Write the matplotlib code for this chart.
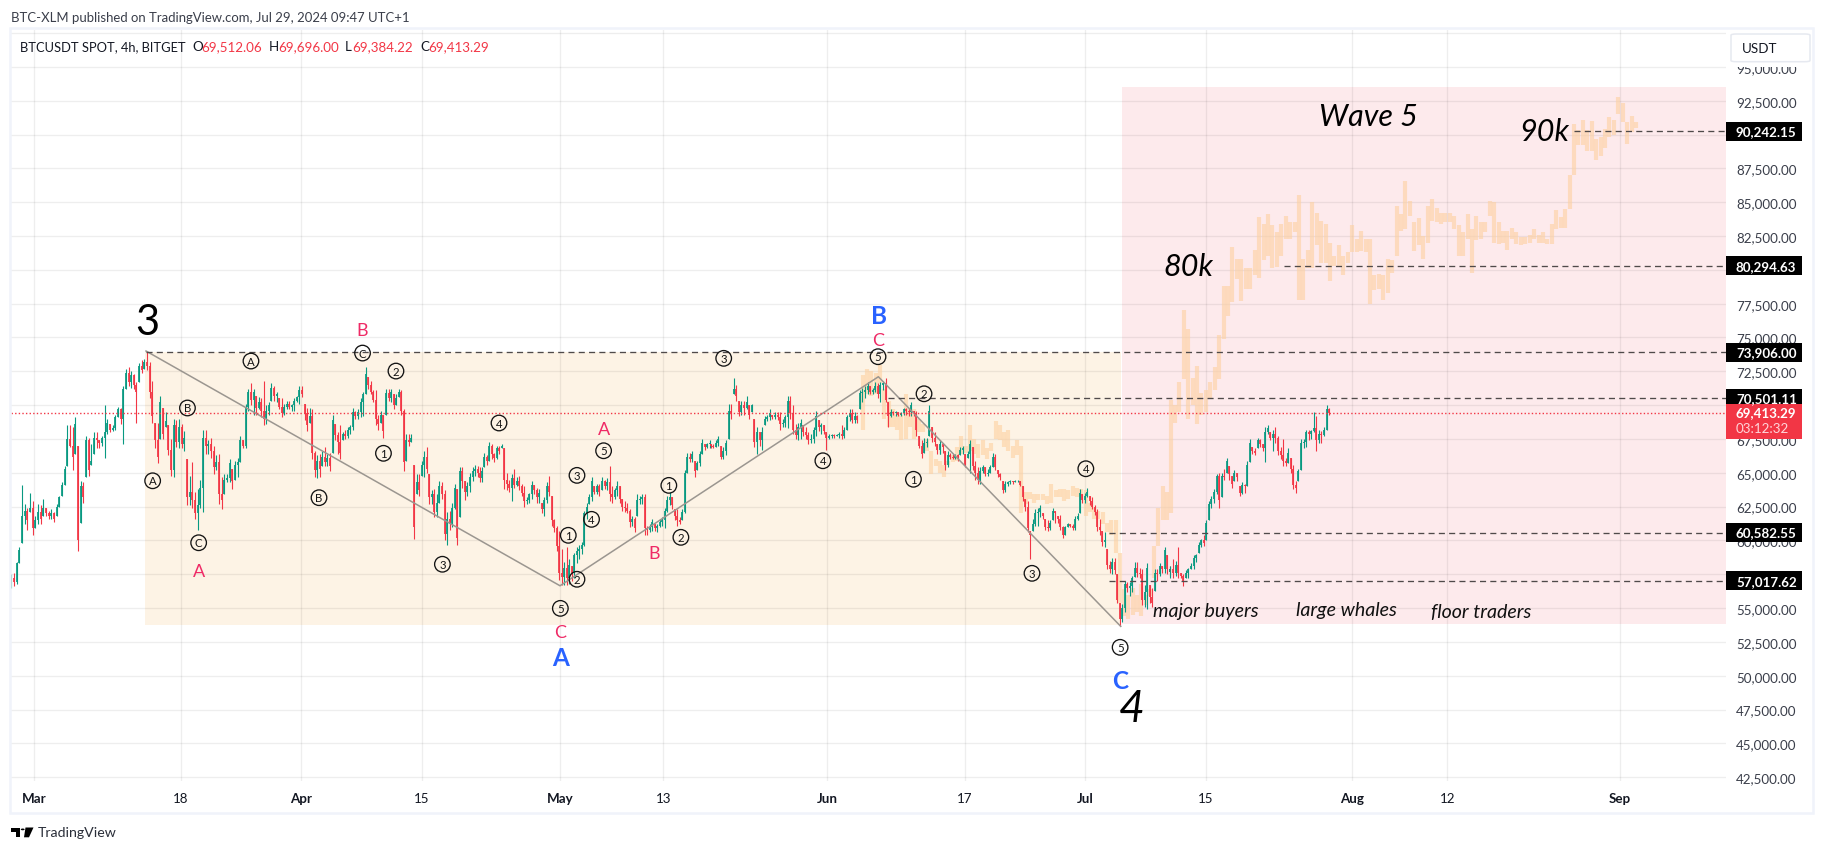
import matplotlib
matplotlib.use("Agg")
import matplotlib.pyplot as plt
import matplotlib.dates as mdates
from matplotlib.patches import Rectangle, FancyBboxPatch, Polygon, Circle
from matplotlib.transforms import blended_transform_factory
import pandas as pd
import numpy as np

plt.rcParams['font.family'] = ['Lato', 'DejaVu Sans']

# ---------- candles, thousands of USDT ----------
dates_a = ('2024-02-27 08:30', '2024-03-25 20:00')
highs_a = [57.5,57.6,58.4,59.5,64.1,62.7,62.4,63.5,62.9,61.8,
           62.7,62.6,63.1,62.4,62.2,62.3,62.1,62.7,63.3,64.3,
           65.5,68.5,68.5,68.4,69.1,67.0,64.4,64.3,67.7,67.6,
           67.1,68.0,68.0,67.4,67.7,70.0,69.0,68.6,68.5,69.3,
           69.9,69.8,71.4,72.7,72.8,72.5,72.3,71.7,73.1,73.3,
           73.4,73.9,73.2,71.8,68.7,68.7,70.7,69.8,69.5,68.5,
           67.5,69.0,68.9,69.0,68.6,68.1,66.0,64.8,65.8,63.6,
           63.8,64.5,68.2,68.2,67.4,67.6,67.0,66.3,66.4,64.7,
           64.9,64.9,66.0,65.3,65.9,66.1,67.7,67.4,70.1,71.2]
lows_a = [56.5,56.6,56.8,58.3,59.8,61.2,60.8,62.1,60.4,60.9,
          61.2,61.2,61.8,61.8,61.6,61.6,61.4,61.8,62.5,63.3,
          64.1,65.5,66.9,65.2,66.4,59.2,61.3,62.8,64.7,64.8,
          65.6,66.4,66.8,66.8,67.0,66.1,67.9,68.0,68.1,68.2,
          69.1,68.6,67.1,71.2,71.4,71.3,71.2,68.7,71.7,72.4,
          72.7,72.6,70.5,68.7,66.8,65.7,67.5,67.5,68.4,66.3,
          64.8,64.7,66.9,66.8,66.8,66.6,62.6,62.6,62.4,61.6,
          60.8,62.4,62.1,66.4,66.4,66.1,64.9,65.2,62.7,62.3,
          63.4,64.3,64.3,63.8,64.5,64.7,65.8,66.8,66.8,69.6]
closes_a = [57.2,56.9,58.3,59.3,61.8,62.2,61.5,62.4,60.9,61.5,
            62.1,61.6,62.4,62.0,61.8,62.0,61.6,62.5,63.2,64.1,
            65.3,67.5,67.0,66.2,68.6,60.0,64.0,63.2,67.4,65.2,
            65.9,67.6,67.4,67.2,67.6,68.0,68.7,68.2,68.3,69.1,
            69.7,69.0,71.2,72.4,71.7,72.2,71.5,71.0,72.9,72.6,
            73.2,72.9,71.0,69.2,67.4,66.2,70.2,67.9,68.8,66.7,
            65.2,68.5,67.3,68.4,67.1,67.6,63.2,63.6,63.0,62.0,
            62.6,63.9,67.6,67.0,67.1,66.6,65.4,65.8,63.4,63.0,
            64.5,64.6,65.7,64.4,65.6,65.8,67.4,67.0,69.9,71.0]

dates_b = ('2024-03-26 04:00', '2024-04-21 18:00')
highs_b = [71.6,71.2,70.7,70.6,70.5,71.8,70.0,70.2,71.6,71.4,
           71.0,70.5,70.5,70.1,70.3,70.3,70.1,70.5,70.7,71.4,
           71.4,70.1,69.8,69.8,69.7,66.6,66.3,66.4,66.6,66.9,
           66.4,66.5,69.3,68.6,68.0,68.5,68.0,68.2,68.4,68.5,
           69.8,69.6,69.7,70.5,71.0,72.8,72.1,71.8,71.1,71.1,
           69.3,69.6,69.3,71.2,71.2,71.2,70.8,70.8,71.2,71.1,
           69.7,67.9,67.9,67.9,65.6,64.9,64.9,65.9,66.6,66.9,
           64.9,63.7,63.8,63.4,64.4,64.3,63.7,62.1,62.2,62.8,
           64.2,63.8,65.4,65.4,64.4,64.3,65.0,65.4,65.6,65.5,65.4]
lows_b = [70.0,69.3,69.3,69.7,69.1,68.5,68.6,69.3,70.3,70.3,
          70.2,69.7,69.1,69.3,69.7,69.7,69.6,69.6,70.2,70.1,
          70.6,68.9,68.1,68.7,66.0,64.7,64.6,64.7,65.5,65.5,
          65.5,65.1,66.5,67.4,66.4,66.0,67.4,67.5,67.6,67.9,
          68.2,69.0,69.0,69.1,69.2,70.8,71.2,70.8,70.2,68.5,
          68.2,68.7,67.6,69.3,70.3,70.2,69.7,70.0,70.6,69.3,
          65.1,65.9,67.0,67.3,60.1,63.4,63.3,64.8,64.7,65.0,
          62.7,62.7,61.7,61.7,62.8,63.1,60.0,59.7,60.8,61.0,
          62.3,59.7,61.7,63.9,63.0,63.3,63.6,64.4,64.8,64.7,64.3]
closes_b = [70.4,71.0,69.8,70.2,69.6,69.0,69.6,70.0,71.3,70.7,
            70.8,69.9,69.4,69.9,70.1,69.9,70.0,70.3,70.6,71.1,
            70.8,69.4,68.5,69.2,66.5,65.2,65.9,65.3,66.2,65.8,
            66.1,65.5,68.9,67.8,67.3,66.5,67.9,67.7,68.2,68.4,
            69.5,69.2,69.5,70.2,70.8,72.3,71.5,71.0,70.4,69.0,
            68.6,69.3,68.1,70.9,70.5,71.0,70.0,70.5,71.0,69.6,
            65.8,67.4,67.3,67.6,61.0,64.3,63.7,65.6,66.2,65.3,
            63.2,63.4,62.1,62.8,64.0,63.4,60.5,61.6,61.2,62.4,
            63.9,60.2,65.1,64.4,63.6,64.0,64.7,65.1,65.3,65.0,64.6]

dates_c = ('2024-04-21 22:00', '2024-05-18 10:00')
highs_c = [65.4,66.5,66.3,67.3,67.1,66.5,67.0,67.0,67.1,66.8,
           65.0,64.5,64.9,65.3,64.7,64.8,64.2,64.0,63.2,63.5,
           64.4,64.1,63.9,63.8,62.8,63.2,64.3,64.8,63.3,61.6,
           61.1,60.7,59.4,58.4,59.5,58.6,58.1,59.1,59.5,59.7,
           59.9,62.2,62.8,63.4,64.7,64.0,64.2,64.2,64.7,64.5,
           64.6,65.5,64.0,63.9,64.4,64.0,63.1,62.9,62.8,62.3,
           61.8,61.7,63.4,63.3,63.4,63.4,61.1,61.2,61.6,61.2,
           61.2,61.6,61.7,62.4,63.3,63.6,63.2,62.3,62.3,61.7,
           62.3,65.2,66.5,66.5,66.6,65.9,65.9,66.6,67.5,67.1,67.2,67.4]
lows_c = [64.3,65.4,65.6,65.9,66.0,65.8,66.0,66.4,66.8,63.8,
          63.7,63.6,62.9,63.9,64.0,63.7,63.3,62.5,62.7,62.8,
          63.1,63.4,62.8,62.8,62.0,61.8,62.8,63.3,61.1,60.6,
          59.2,57.1,56.7,56.7,56.7,56.8,57.0,57.2,58.3,58.6,
          59.0,59.6,61.6,62.7,62.9,63.4,63.4,63.3,63.7,63.8,
          63.7,62.9,62.8,63.1,63.3,62.8,62.2,62.1,62.0,61.0,
          61.1,60.6,61.8,62.7,62.7,60.4,60.4,60.6,60.7,60.7,
          60.6,61.0,61.1,60.9,62.1,62.6,62.3,61.5,61.1,61.2,
          61.5,62.0,65.0,65.8,65.8,64.7,65.2,65.5,66.4,66.7,66.8,66.8]
closes_c = [65.1,66.2,65.9,67.0,66.4,66.1,66.8,66.6,67.0,64.5,
            64.2,63.9,64.6,64.1,64.4,64.0,63.5,62.9,63.0,63.4,
            64.1,63.7,63.2,63.5,62.3,63.0,64.0,63.6,61.5,60.9,
            59.6,57.6,57.3,58.0,57.2,58.2,57.6,58.9,59.2,59.4,
            59.7,62.0,62.5,63.2,64.4,63.6,64.0,63.6,64.4,64.0,
            64.3,63.4,63.2,63.7,64.0,63.1,62.5,62.4,62.2,61.4,
            61.6,60.9,63.0,63.1,63.2,60.9,60.8,61.0,61.4,60.9,
            61.1,61.4,61.5,62.2,63.0,63.2,62.6,61.8,61.5,61.4,
            62.1,65.0,66.2,66.0,66.4,65.1,65.7,66.4,67.2,66.9,67.1,67.2]

dates_d = ('2024-05-18 12:00', '2024-06-14 02:00')
highs_d = [67.1,67.1,67.4,67.7,67.0,66.9,67.4,70.1,70.1,72.0,
           71.5,70.3,70.3,70.3,70.7,70.0,70.1,69.0,68.4,68.0,
           68.4,69.2,69.3,69.7,69.3,69.5,69.5,69.5,69.0,69.3,
           70.7,70.7,70.0,68.6,68.7,69.0,68.5,68.4,68.0,67.9,
           68.4,69.6,68.9,68.7,68.5,68.0,67.9,67.9,67.9,67.9,
           68.0,68.5,68.4,69.3,69.7,69.7,69.5,69.3,71.1,71.3,
           71.4,71.7,71.4,71.3,71.7,71.6,71.7,71.8,72.0,70.2,
           69.7,69.6,69.6,69.5,69.5,69.8,69.8,69.8,70.2,69.6,
           69.6,67.7,67.4,67.6,67.6,70.0,68.4,68.0,67.1,67.1]
lows_d = [66.8,66.8,66.9,67.0,66.0,66.0,66.3,67.5,69.0,70.8,
          70.3,69.2,69.3,69.3,69.7,69.0,69.5,66.9,66.4,67.0,
          66.7,68.5,68.8,68.9,69.0,69.0,68.9,68.2,68.4,68.4,
          68.3,69.0,67.9,67.5,67.4,67.5,67.7,67.5,67.1,67.2,
          67.2,67.7,68.1,67.9,67.9,66.7,67.5,67.6,67.6,67.7,
          67.6,67.5,67.6,68.2,68.8,68.7,68.7,68.7,69.7,70.2,
          70.5,70.8,70.8,70.8,71.0,70.5,70.2,71.1,70.2,68.4,
          69.1,69.3,69.2,69.2,69.2,69.3,69.3,69.2,69.2,69.2,
          67.7,66.8,66.1,66.5,66.9,67.7,67.3,67.0,66.4,66.4]
closes_d = [67.0,66.9,67.2,67.5,66.2,66.6,67.2,69.6,69.4,71.2,
            70.7,69.5,70.0,69.8,70.2,69.3,70.0,67.3,68.0,67.4,
            68.0,69.0,69.1,69.4,69.1,69.3,69.1,68.6,68.7,69.1,
            70.3,69.4,68.2,67.8,68.4,68.7,68.0,67.8,67.4,67.5,
            68.2,69.2,68.4,68.5,68.1,67.6,67.7,67.8,67.7,67.8,
            67.9,67.7,68.2,69.1,69.4,68.9,69.2,68.9,70.9,71.0,
            71.1,71.4,71.0,71.1,71.4,70.8,71.5,71.6,70.4,69.2,
            69.5,69.4,69.5,69.3,69.4,69.7,69.6,69.5,70.0,69.4,
            68.2,67.0,66.4,67.2,67.3,69.6,67.6,67.3,66.7,66.9]

dates_e = ('2024-06-14 04:00', '2024-07-10 19:00')
highs_e = [67.4,67.2,66.6,66.6,66.5,66.4,66.4,66.4,66.9,67.0,
           66.4,66.6,67.4,66.9,65.9,65.4,65.4,65.6,65.4,65.3,
           65.6,66.5,66.4,65.2,65.0,64.4,64.4,64.4,64.5,64.4,
           64.5,64.5,64.4,64.0,63.1,62.9,60.7,61.6,62.3,62.4,
           62.6,62.0,61.6,61.5,61.5,62.4,62.2,61.8,61.9,61.1,
           61.1,61.3,61.2,61.2,61.8,62.0,63.8,63.4,63.5,63.9,
           63.3,63.2,62.6,62.3,61.6,60.7,60.6,59.4,58.5,58.7,
           58.7,57.5,55.4,55.3,57.0,56.9,56.9,57.4,58.4,58.4,
           58.0,57.9,56.7,58.3,56.7,56.5,57.9,57.9,58.3,58.1,59.5,58.9,58.1]
lows_e = [66.4,66.5,65.2,65.4,66.0,66.0,66.0,65.9,66.3,66.4,
          65.4,66.1,65.0,65.2,64.5,64.2,64.2,65.0,64.8,64.8,
          65.0,65.4,65.2,64.7,64.5,63.5,63.6,64.0,64.2,64.2,
          64.3,64.3,64.0,62.9,62.2,60.6,58.6,60.7,61.1,61.1,
          61.7,61.6,60.8,60.7,60.8,61.5,61.3,61.3,60.8,60.2,
          60.4,61.0,61.0,60.8,60.8,61.5,62.0,62.8,62.8,63.2,
          62.6,62.3,61.9,60.7,60.4,59.6,59.5,57.9,57.6,57.5,
          57.5,55.4,53.7,54.0,54.7,56.2,55.9,56.2,57.3,57.3,
          57.2,55.2,55.1,54.9,55.4,55.1,56.3,57.0,57.4,57.6,57.6,57.5,57.4]
closes_e = [67.1,66.9,65.6,66.3,66.2,66.1,66.3,66.0,66.7,66.8,
            65.6,66.4,67.1,65.5,65.0,64.5,65.1,65.4,64.9,65.0,
            65.4,66.2,65.4,64.9,64.7,63.7,64.2,64.3,64.4,64.3,
            64.4,64.4,64.1,63.2,62.5,60.9,60.4,61.2,62.0,62.1,
            62.4,61.8,61.0,60.9,61.3,62.2,62.0,61.6,61.0,60.4,
            61.0,61.2,61.1,60.9,61.6,61.8,63.5,63.0,63.3,63.6,
            62.9,62.5,62.1,61.0,60.8,59.9,60.0,58.2,57.9,58.4,
            57.8,55.6,54.2,55.0,56.8,56.5,56.6,57.2,58.0,57.6,
            57.5,55.6,56.2,58.0,55.8,55.4,57.6,57.5,58.1,57.9,59.3,57.9,57.7]

dates_f = ('2024-07-10 21:00', '2024-07-29 07:00')
highs_f = [58.1,58.6,58.5,59.5,57.6,57.5,57.8,58.0,58.3,58.9,
           59.0,59.9,60.1,60.4,61.5,62.9,63.3,63.8,64.9,65.0,
           65.0,65.3,66.1,65.5,64.8,65.2,65.0,64.0,64.3,64.2,
           65.9,67.5,66.9,66.8,67.6,67.5,67.1,68.4,68.5,68.0,
           68.2,68.4,67.7,66.9,67.5,66.1,66.8,66.1,65.6,64.4,
           65.3,67.5,67.5,68.2,68.2,68.2,69.5,69.2,68.2,68.1,68.4,70.0,69.8]
lows_f = [57.2,57.2,57.4,57.2,57.2,56.6,57.2,57.2,57.9,57.9,
          58.4,59.1,59.5,59.6,60.0,61.5,62.4,62.8,63.4,62.4,
          63.2,64.5,65.0,64.5,63.9,64.4,64.4,63.3,63.4,63.5,
          64.0,65.8,66.4,66.3,66.8,66.9,66.6,65.8,67.9,67.4,
          66.6,67.2,66.3,66.0,65.5,65.5,65.7,65.0,63.8,63.5,
          64.4,65.2,66.8,66.9,67.4,67.5,68.0,66.6,67.2,67.2,67.7,68.2,69.3]
closes_f = [57.9,57.6,58.2,57.6,57.4,56.9,57.6,57.9,58.1,58.7,
            58.9,59.7,60.0,59.8,61.3,62.7,63.1,63.6,64.8,63.0,
            64.8,64.7,65.9,64.9,64.2,65.0,64.7,63.5,64.1,64.0,
            65.6,67.2,66.6,66.5,67.4,67.1,66.8,68.0,68.3,67.6,
            67.9,67.6,66.6,66.3,65.9,65.7,66.5,65.3,64.1,63.9,
            65.1,67.2,67.3,68.0,67.9,68.1,68.3,67.4,67.9,67.8,68.2,69.7,69.41]

# ---------- projected ("ghost") path ----------
ghost_dates_a = ('2024-06-05 04:00', '2024-07-10 23:00')
ghost_highs_a = [72.2,72.7,72.5,72.4,73.0,71.2,70.3,69.7,69.3,69.3,
                 70.8,69.8,69.7,69.0,68.6,67.5,66.6,66.0,65.9,
                 65.6,65.9,66.3,66.9,67.7,67.0,68.5,67.5,67.1,67.4,66.8,67.2,
                 68.8,68.5,68.0,68.2,67.0,67.4,67.0,63.6,63.6,63.4,63.4,63.4,63.3,
                 64.2,63.7,63.8,63.8,63.7,64.0,63.9,63.8,63.7,62.8,62.4,62.2,62.1,
                 61.3,61.5,61.5,59.1,56.4,56.0,56.5,56.0,56.8,56.0,56.4,
                 59.6,62.4,64.0,63.6,70.4]
ghost_lows_a = [68.2,70.8,70.7,70.8,71.6,69.0,68.4,68.4,68.2,67.4,
                67.5,68.4,67.5,68.0,68.0,66.6,64.9,65.5,65.0,
                64.7,65.6,65.8,65.9,66.4,66.5,66.6,66.4,66.1,66.3,66.0,66.6,
                67.5,67.4,66.9,66.6,66.1,66.3,62.0,62.7,63.1,62.8,63.0,63.0,62.7,
                62.8,63.2,63.2,62.9,63.1,63.3,63.2,63.3,61.8,62.1,61.6,61.6,61.2,
                60.6,60.4,59.1,55.4,54.4,54.2,54.5,54.7,54.4,55.2,55.9,
                57.2,59.6,61.5,61.5,62.0]
ghost_dates_b = ('2024-07-11 09:00', '2024-09-02 22:00')
ghost_highs_b = [70.0,71.7,77.0,75.6,72.0,72.9,70.9,71.1,71.7,72.8,
                 75.2,78.8,78.8,81.7,80.8,80.8,80.1,80.1,81.5,83.9,
                 83.4,84.1,83.3,82.8,83.4,84.0,83.5,83.5,85.5,80.8,
                 81.5,85.0,84.2,83.6,83.4,82.0,81.0,81.8,81.0,81.3,
                 83.3,82.3,82.9,82.3,82.3,79.6,79.7,79.6,80.8,80.7,
                 84.7,84.1,86.6,85.1,83.5,83.8,82.5,84.7,85.2,84.6,
                 84.2,84.2,84.2,84.0,83.3,82.8,84.1,83.0,84.0,83.5,
                 83.5,85.1,85.0,83.5,82.9,82.9,83.1,82.8,82.4,82.4,
                 82.6,83.0,82.6,82.8,82.3,83.4,84.4,83.9,84.5,87.0,
                 90.8,90.3,91.1,90.3,91.0,89.7,89.8,90.4,91.3,91.1,
                 92.75,92.3,90.9,91.4,90.9]
ghost_lows_b = [68.7,69.5,71.9,69.0,70.0,68.6,69.3,69.5,70.5,71.1,
                71.9,74.9,76.6,77.6,79.3,77.7,78.6,78.6,79.6,79.4,
                80.7,81.0,80.1,80.2,81.0,82.3,82.3,82.8,77.8,77.8,
                80.1,80.1,81.8,80.5,80.5,79.2,80.3,80.2,79.6,80.5,
                81.3,81.3,81.4,81.3,77.5,78.5,78.6,77.8,78.3,79.8,
                81.0,82.9,83.0,84.0,81.4,81.8,80.8,82.0,83.6,83.5,
                83.4,83.5,83.5,83.0,81.0,81.0,82.3,79.8,82.2,82.3,
                82.8,84.0,82.0,81.9,82.0,81.5,82.3,81.9,81.8,81.9,
                82.0,82.3,82.0,82.0,81.9,81.9,83.0,83.1,83.1,84.5,
                87.0,89.2,89.2,88.8,88.8,88.1,88.4,89.0,89.8,90.0,
                91.5,90.9,89.3,90.2,90.5]

# ---------- axes content ----------
y_ticks = [42.5,45,47.5,50,52.5,55,57.5,60,62.5,65,67.5,70,72.5,75,77.5,80,82.5,85,87.5,90,92.5,95,97.5]
hidden_tick_labels = {80, 90, 97.5}   # fully covered by a price tag or the currency button in the reference
x_tick_dates = ['2024-03-01','2024-03-18','2024-04-01','2024-04-15','2024-05-01','2024-05-13',
                '2024-06-01','2024-06-17','2024-07-01','2024-07-15','2024-08-01','2024-08-12','2024-09-01']
x_tick_labels = ['Mar','18','Apr','15','May','13','Jun','17','Jul','15','Aug','12','Sep']
month_labels = {'Mar','Apr','May','Jun','Jul','Aug','Sep'}

levels = [73.906, 70.50111, 60.58255, 57.01762, 80.29463, 90.24215]
level_starts = [12.97, 99.1, 124.75, 124.75, 145.06, 178.7]
level_texts = ['73,906.00','70,501.11','60,582.55','57,017.62','80,294.63','90,242.15']
last_price = 69.41329

trend_days = [12.97, 61.02, 97.97, 126.1]
trend_prices = [74.0, 56.65, 72.1, 53.65]

circled = [('A',25.15,73.26),('C',38.1,73.85),('2',41.98,72.52),('B',17.78,69.79),('4',53.94,68.68),
           ('A',13.74,64.41),('C',19.08,59.83),('B',33.05,63.16),('1',40.53,66.44),('3',47.37,58.24),
           ('1',61.98,60.38),('2',62.99,57.13),('3',62.99,64.81),('4',64.68,61.56),('5',66.08,66.63),
           ('5',61.06,54.98),('1',73.65,64.07),('2',75.05,60.23),('3',80.02,73.46),('4',91.53,65.89),
           ('5',97.93,73.58),('2',103.27,70.84),('1',102.04,64.52),('3',115.8,57.57),('4',122.05,65.3),
           ('5',126.03,52.1)]
pink = [('B',38.1,75.55),('A',19.08,57.76),('A',66.08,68.24),('C',61.06,53.25),('B',71.99,59.05),('C',97.93,74.79)]
blue = [('A',61.06,51.33),('B',98.0,76.66),('C',126.03,49.63)]
big = [('3',13.08,76.14,'normal',30),('4',127.4,47.61,'italic',32),
       ('Wave 5',154.9,91.39,'italic',22),('90k',175.2,90.28,'italic',22),('80k',133.9,80.26,'italic',22)]
notes = [('major buyers',129.9,54.81),('large whales',146.45,54.93),('floor traders',162.1,54.76)]

GREEN, RED = '#089981', '#f23645'
W, H = 1824, 853
fig = plt.figure(figsize=(W/100, H/100), dpi=100, facecolor='white')
fx = lambda x: x / W
fy = lambda y: 1 - y / H

ax = fig.add_axes([fx(11), fy(782), (1726 - 11) / W, (782 - 30.7) / H])
START = mdates.date2num(pd.Timestamp('2024-03-01'))
day = lambda d: START + d
X0, X1 = day(-2.70), day(196.35)
ax.set_xlim(X0, X1)
ax.set_ylim(42.22, 97.75)
ax.set_facecolor('white')
for s in ax.spines.values():
    s.set_visible(False)
ax.set_axisbelow(True)

# background zones
ax.add_patch(Rectangle((day(12.85), 53.77), 113.3, 73.906 - 53.77, fc='#fdf3e5', ec='none', zorder=0.2))
ax.add_patch(Rectangle((day(126.3), 53.82), 70.05, 93.49 - 53.82, fc='#fdeaec', ec='none', zorder=0.2))

# axes
ax.yaxis.tick_right()
ax.set_yticks(y_ticks)
ax.set_yticklabels(['' if v in hidden_tick_labels else f'{v*1000:,.2f}' for v in y_ticks],
                   fontsize=9.6, color='#3a3e4a')
ax.set_xticks([mdates.date2num(pd.Timestamp(d)) for d in x_tick_dates])
ax.set_xticklabels(x_tick_labels, fontsize=9.6, color='#131722')
for lab in ax.get_xticklabels():
    if lab.get_text() in month_labels:
        lab.set_fontweight('bold')
ax.tick_params(axis='y', length=0, pad=7.2)
ax.tick_params(axis='x', length=0, pad=8)
ax.grid(True, color='black', alpha=0.065, lw=1.0)

# ghost path
def ghost(dr, hi, lo):
    x = mdates.date2num(pd.date_range(dr[0], dr[1], periods=len(hi)))
    ax.vlines(x, lo, hi, color='#fdd0a0', alpha=0.6, lw=3.0, zorder=1.5)
ghost(ghost_dates_a, ghost_highs_a, ghost_lows_a)
ghost(ghost_dates_b, ghost_highs_b, ghost_lows_b)

# candles
def candles(dr, hi, lo, cl, prev):
    x = mdates.date2num(pd.date_range(dr[0], dr[1], periods=len(hi)))
    hi, lo, cl = map(np.array, (hi, lo, cl))
    assert len(hi) == len(lo) == len(cl)
    op = np.clip(np.r_[prev, cl[:-1]], lo, hi)
    col = [GREEN if c >= o else RED for o, c in zip(op, cl)]
    ax.vlines(x, lo, hi, colors=col, lw=0.8, zorder=2)
    ax.vlines(x, np.minimum(op, cl), np.maximum(op, cl), colors=col, lw=1.25, zorder=2.1)
    return cl[-1]
prev = 57.0
for seg in [(dates_a, highs_a, lows_a, closes_a), (dates_b, highs_b, lows_b, closes_b),
            (dates_c, highs_c, lows_c, closes_c), (dates_d, highs_d, lows_d, closes_d),
            (dates_e, highs_e, lows_e, closes_e), (dates_f, highs_f, lows_f, closes_f)]:
    prev = candles(*seg, prev)

# trend zig-zag
ax.plot([day(d) for d in trend_days], trend_prices, color='#9b9690', lw=1.1, zorder=3)

# levels and price tags
ytrans = blended_transform_factory(ax.transAxes, ax.transData)
tag_w = 76 / 1715
for v, st, txt in zip(levels, level_starts, level_texts):
    ax.hlines(v, day(st), X1, color='#4f4a4a', lw=0.95, linestyles=(0, (4.6, 3.2)), zorder=3)
    ax.add_patch(Rectangle((1, v - 0.70), tag_w, 1.40, transform=ytrans, fc='black', ec='none',
                           clip_on=False, zorder=6))
    ax.text(1 + 10 / 1715, v, txt, transform=ytrans, color='white', fontsize=9.6, fontweight='bold',
            va='center', ha='left', clip_on=False, zorder=7)
ax.axhline(last_price, color=RED, lw=1.0, ls=(0, (1, 1.6)), zorder=3)
ax.add_patch(Rectangle((1, 67.5), tag_w, 70.08 - 67.5, transform=ytrans, fc=RED, ec='none',
                       clip_on=False, zorder=6))
ax.text(1 + 10 / 1715, 69.47, '69,413.29', transform=ytrans, color='white', fontsize=9.6, fontweight='bold',
        va='center', ha='left', clip_on=False, zorder=7)
ax.text(1 + 10 / 1715, 68.28, '03:12:32', transform=ytrans, color='#ffd5d9', fontsize=9.6,
        va='center', ha='left', clip_on=False, zorder=7)

# wave labels
for t, d, p in circled:
    ax.text(day(d), p, t, fontsize=8.2, color='#131313', ha='center', va='center', zorder=5,
            bbox=dict(boxstyle='circle,pad=0.2', fc='none', ec='#131313', lw=0.95))
for t, d, p in pink:
    ax.text(day(d), p, t, fontsize=13, color='#ef2a66', ha='center', va='center', zorder=5)
for t, d, p in blue:
    ax.text(day(d), p, t, fontsize=17.5, fontweight='bold', color='#2962ff', ha='center', va='center', zorder=5)
for t, d, p, sty, fs in big:
    ax.text(day(d), p, t, fontsize=fs, style=sty, color='black', ha='center', va='center', zorder=5)
for t, d, p in notes:
    ax.text(day(d), p, t, fontsize=14.1, style='italic', color='#111111', ha='left', va='center', zorder=5)

# chart frame
fig.add_artist(Rectangle((fx(10), fy(814)), 1803 / W, 785 / H, transform=fig.transFigure,
                         fc='none', ec='#f0f3fa', lw=1.8))

# header text
fig.text(fx(11), fy(17.7), 'BTC-XLM published on TradingView.com, Jul 29, 2024 09:47 UTC+1',
         fontsize=9.45, color='#3a3e4a', va='center')
fig.text(fx(20), fy(47), 'BTCUSDT SPOT, 4h, BITGET', fontsize=9.3, color='#131722', va='center')
for letter, xl, value, xv in [('O', 192, '69,512.06', 201), ('H', 269, '69,696.00', 278),
                              ('L', 345, '69,384.22', 352), ('C', 420, '69,413.29', 428)]:
    fig.text(fx(xl), fy(47), letter, fontsize=9.6, color='#131722', va='center')
    fig.text(fx(xv), fy(47), value, fontsize=9.6, color=RED, va='center')

# currency button, on a white panel that also hides the top of the price scale
fig.add_artist(Rectangle((fx(1727), fy(68)), 85 / W, 37 / H, transform=fig.transFigure,
                         fc='white', ec='none', zorder=1))
fig.add_artist(FancyBboxPatch((fx(1731), fy(62.7)), 79 / W, 27.7 / H, transform=fig.transFigure,
                              boxstyle='round,pad=0,rounding_size=0.003', mutation_aspect=H / W * 1.0,
                              fc='white', ec='#e6e9f0', lw=1.1, zorder=1.5))
fig.text(fx(1741.5), fy(49), 'USDT', fontsize=9.6, color='#131722', ha='left', va='center')

# footer logo and name
fig.add_artist(Polygon([(fx(11), fy(828.5)), (fx(20.5), fy(828.5)), (fx(20.5), fy(838.3)), (fx(16), fy(838.3)),
                        (fx(16), fy(832.5)), (fx(11), fy(832.5))], closed=True, transform=fig.transFigure,
                       fc='black', ec='none'))
fig.add_artist(Polygon([(fx(25.5), fy(828.5)), (fx(33.5), fy(828.5)), (fx(29), fy(838.3)), (fx(24), fy(838.3))],
                       closed=True, transform=fig.transFigure, fc='black', ec='none'))
fig.add_artist(Circle((fx(22.7), fy(830.4)), 1.9 / W, transform=fig.transFigure, fc='black', ec='none'))
fig.text(fx(38), fy(833), 'TradingView', fontsize=10.2, color='#2a2e39', va='center')

fig.savefig('out.png', dpi=100)
